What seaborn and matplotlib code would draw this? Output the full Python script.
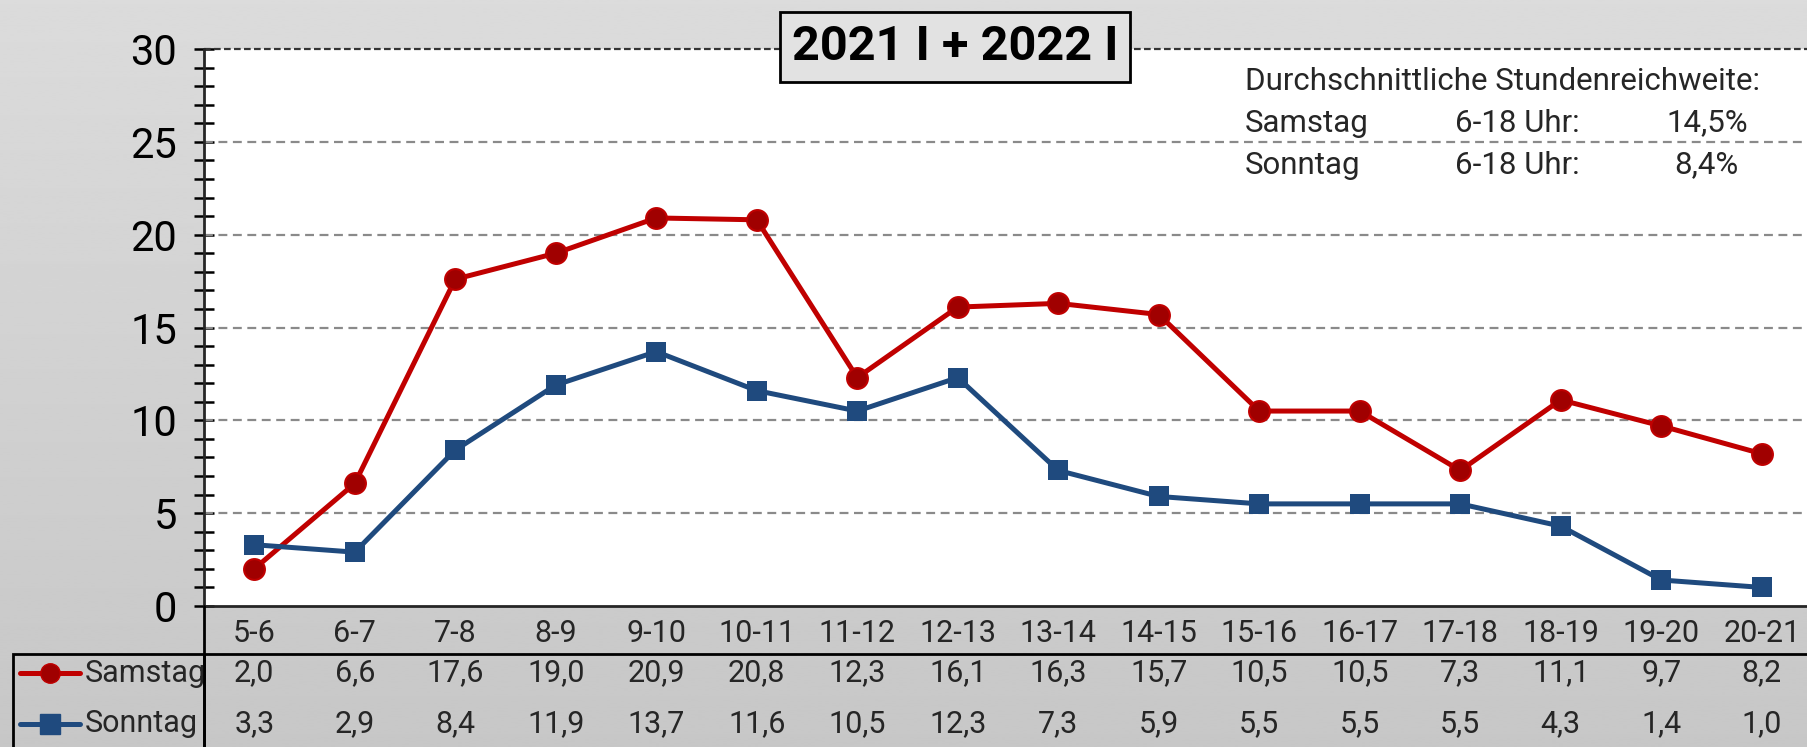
import numpy as np
import pandas as pd
import seaborn as sns
import matplotlib.pyplot as plt
from matplotlib.lines import Line2D
from matplotlib.patches import Rectangle
import matplotlib.transforms as mtransforms

# data
hours = ["5-6", "6-7", "7-8", "8-9", "9-10", "10-11", "11-12", "12-13",
         "13-14", "14-15", "15-16", "16-17", "17-18", "18-19", "19-20", "20-21"]
samstag = [2.0, 6.6, 17.6, 19.0, 20.9, 20.8, 12.3, 16.1, 16.3, 15.7, 10.5, 10.5, 7.3, 11.1, 9.7, 8.2]
sonntag = [3.3, 2.9, 8.4, 11.9, 13.7, 11.6, 10.5, 12.3, 7.3, 5.9, 5.5, 5.5, 5.5, 4.3, 1.4, 1.0]
series_names = ["Samstag", "Sonntag"]
title = "2021 I + 2022 I"
note_head = "Durchschnittliche Stundenreichweite:"
note_rows = [("Samstag", "6-18 Uhr:", "14,5%"), ("Sonntag", "6-18 Uhr:", "8,4%")]

red = "#c00000"
red_dark = "#a00000"
blue = "#1f4a7e"

sns.set_style("white")
plt.rcParams["font.family"] = ["Liberation Sans Narrow", "Roboto", "DejaVu Sans"]

df = pd.DataFrame({
    "pos": list(range(len(hours))) * 2,
    "Wert": samstag + sonntag,
    "Tag": [series_names[0]] * len(hours) + [series_names[1]] * len(hours),
})

W, H = 1807, 747
fig = plt.figure(figsize=(W / 100, H / 100), dpi=100)

# grey gradient background
bg = fig.add_axes([0, 0, 1, 1], zorder=-10)
grad = np.linspace(0.86, 0.78, 256).reshape(-1, 1)
bg.imshow(np.repeat(grad, 2, axis=1), cmap="gray", vmin=0, vmax=1,
          aspect="auto", extent=[0, 1, 0, 1])
bg.set_axis_off()

left, right = 204 / W, 1.0
bottom, top = 1 - 606 / H, 1 - 49 / H
ax = fig.add_axes([left, bottom, right - left, top - bottom])
ax.set_facecolor("white")

sns.lineplot(data=df, x="pos", y="Wert", hue="Tag", style="Tag",
             palette={"Samstag": red, "Sonntag": blue},
             markers={"Samstag": "o", "Sonntag": "s"}, dashes=False,
             linewidth=3.6, markersize=15, ax=ax, legend=False, zorder=3)
for ln in ax.lines:
    if ln.get_color() == red:
        ln.set_markerfacecolor(red_dark)
        ln.set_markeredgecolor(red)
        ln.set_markeredgewidth(1.5)
    else:
        ln.set_markersize(14)
        ln.set_markeredgewidth(0)

ax.set_xlim(-0.5, 15.45)
ax.set_ylim(0, 30)
ax.set_yticks(range(0, 31, 5))
ax.set_yticks(range(0, 31), minor=True)
ax.tick_params(axis="y", which="both", left=True, direction="inout", length=15,
               width=1.8, colors="black")
ax.tick_params(axis="y", which="major", labelsize=30, pad=12)
ax.set_xticks(range(len(hours)), labels=hours)
ax.tick_params(axis="x", length=0, labelsize=22, pad=9)
ax.set_xlabel("")
ax.set_ylabel("")
for yv in range(5, 30, 5):
    ax.axhline(yv, color="#8a8a8a", lw=1.6, ls=(0, (4, 2.5)), zorder=1)
ax.axhline(30, color="#333333", lw=1.6, ls=(0, (3, 1.5)), zorder=1, clip_on=False)
for s in ["top", "right"]:
    ax.spines[s].set_visible(False)
ax.spines["left"].set_linewidth(2)
ax.spines["bottom"].set_linewidth(2)

# table lines
fig.add_artist(Line2D([left, left], [0, bottom], color="black", lw=2))
fig.add_artist(Line2D([left, 1], [1 - 654 / H, 1 - 654 / H], color="black", lw=2))
fig.add_artist(Rectangle((13 / W, -0.01), left - 13 / W, 1 - 654 / H + 0.01,
                         fill=False, edgecolor="black", lw=2))

trans = mtransforms.blended_transform_factory(ax.transData, fig.transFigure)
row_y = [1 - 673 / H, 1 - 724 / H]
for vals, yy in zip([samstag, sonntag], row_y):
    for i, v in enumerate(vals):
        ax.text(i, yy, f"{v:.1f}".replace(".", ","), transform=trans,
                ha="center", va="center", fontsize=22, clip_on=False)

# legend inside table
for name, col, mk, yy in zip(series_names, [red, blue], ["o", "s"], row_y):
    fig.add_artist(Line2D([20 / W, 80 / W], [yy, yy], color=col, lw=3.6,
                          solid_capstyle="round"))
    fig.add_artist(Line2D([50 / W], [yy], marker=mk, markersize=14,
                          markerfacecolor=red_dark if mk == "o" else blue,
                          markeredgecolor=col, color=col))
    fig.text(85 / W, yy, name, ha="left", va="center", fontsize=22)

# title box
fig.text(955 / W, 1 - 47 / H, title, ha="center", va="center", fontsize=35,
         fontweight="bold", color="black",
         bbox=dict(boxstyle="square,pad=0.25", facecolor="#e2e2e2",
                   edgecolor="black", lw=2))

# note
fig.text(1245 / W, 1 - 82 / H, note_head, ha="left", va="center", fontsize=22.5)
for (d, u, p), yy, xr in zip(note_rows, [123, 165], [1748, 1738]):
    fig.text(1245 / W, 1 - yy / H, d, ha="left", va="center", fontsize=22.5)
    fig.text(1455 / W, 1 - yy / H, u, ha="left", va="center", fontsize=22.5)
    fig.text(xr / W, 1 - yy / H, p, ha="right", va="center", fontsize=22.5)

fig.savefig("out.png", dpi=100)
